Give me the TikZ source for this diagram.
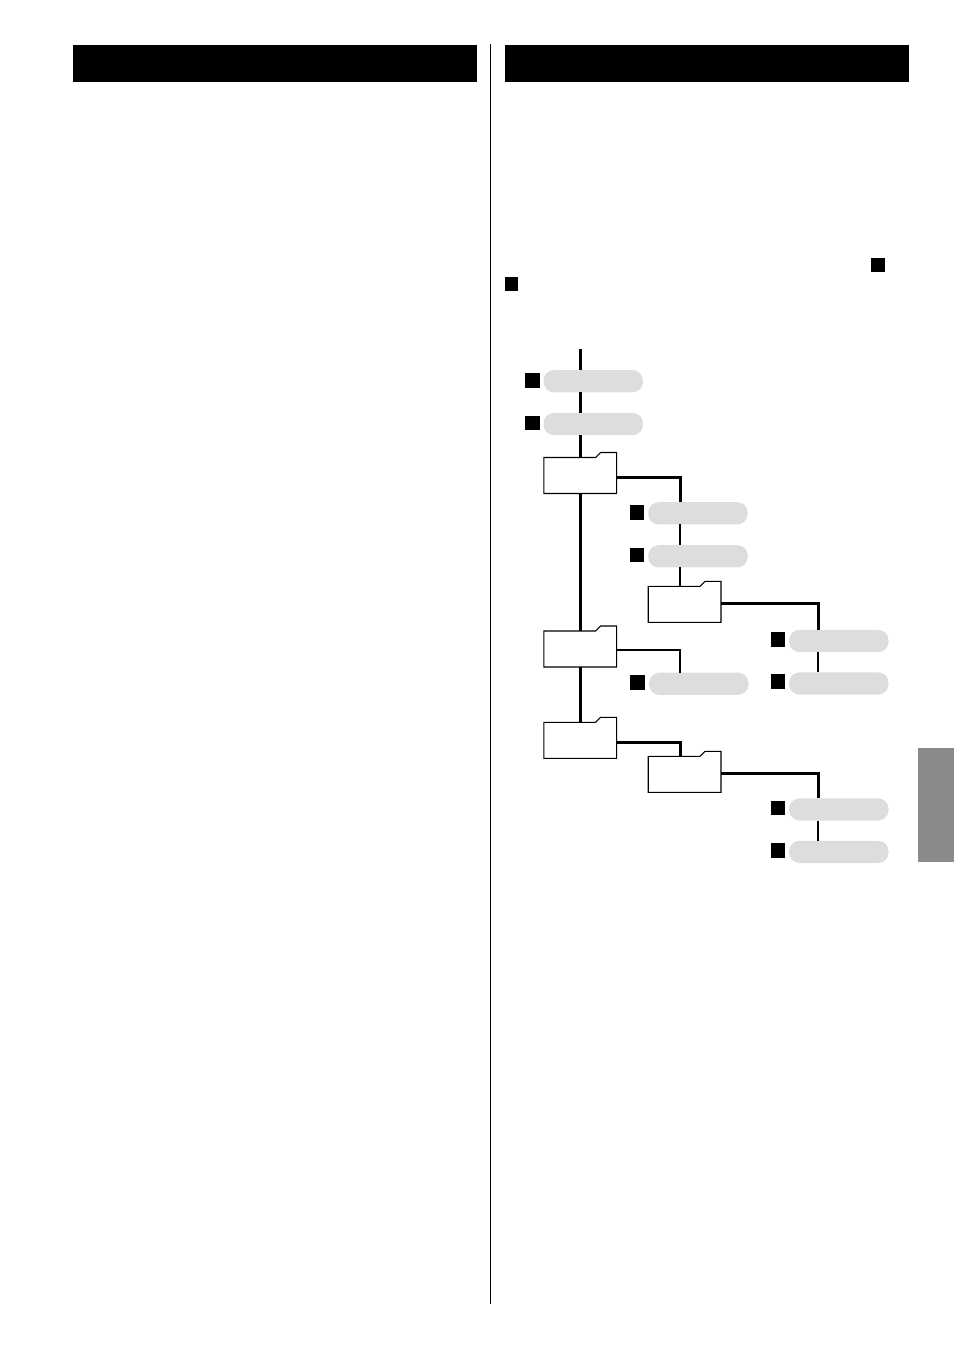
\documentclass[tikz,border=0pt]{standalone}
\usepackage{tikz}
\usetikzlibrary{positioning, calc}
\definecolor{pillgray}{HTML}{DCDDDD}
\definecolor{sidegray}{HTML}{8A8A8A}

\begin{document}
\begin{tikzpicture}[
    x=1pt, y=-1pt,
    node distance=4pt,
    bar/.style={fill=black, inner sep=0pt, outer sep=0pt, minimum width=404pt, minimum height=37pt, anchor=north west},
    pill/.style={fill=pillgray, rounded corners=10.5pt, inner sep=0pt, outer sep=0pt, minimum width=99.5pt, minimum height=22.3pt},
    sq/.style={fill=black, inner sep=0pt, outer sep=0pt, minimum size=14.6pt},
    folder/.style={fill=white, inner sep=0pt, outer sep=0pt, minimum width=72.8pt, minimum height=36pt},
    outline/.style={draw=black, line width=1.1pt, fill=white, line join=miter},
    trunk/.style={draw=black, line width=3pt},
    branch/.style={draw=black, line width=3pt},
    twig/.style={draw=black, line width=2.2pt},
]
\useasboundingbox (0,0) rectangle (954,1350);

% Header bars and page furniture
\node[bar] (barl) at (73,45) {};
\node[bar] (barr) at (505,45) {};
\node[fill=sidegray, inner sep=0pt, outer sep=0pt, minimum width=36pt, minimum height=114pt, anchor=north west] (side) at (918,748) {};
\coordinate (divt) at (490.5,44);
\coordinate (divb) at (490.5,1304);
\draw[line width=1.2pt] (divt) -- (divb);
\node[sq, minimum size=14pt] (inl1) at (878,265) {};
\node[sq, minimum size=14pt, minimum width=13.2pt] (inl2) at (511.6,284) {};

% Root level
\coordinate (top) at (580.5,349);
\node[pill] (p1) at (593.25,381.2) {};
\node[pill, below=20.5pt of p1] (p2) {};
\node[sq, left=3.8pt of p1, yshift=.7pt] (s1) {};
\node[sq, left=3.8pt of p2, yshift=1.2pt] (s2) {};

% Folders
\node[folder] (fold1) at (580.2,475.5) {};
\node[folder] (fold2) at (684.6,604.3) {};
\node[folder] (fold3) at (580.2,649) {};
\node[folder] (fold4) at (580.2,740.3) {};
\node[folder] (fold5) at (684.6,774.3) {};
\foreach \f in {fold1,fold2,fold3,fold4,fold5}
    \draw[outline] (\f.south west) -- (\f.north west) -- ($(\f.north east)+(-21,0)$)
        -- ++(5,-5) -- ($(\f.north east)+(0,-5)$) -- (\f.south east) -- cycle;

% Pills under folder 1
\node[pill] (p3) at (698,513.3) {};
\node[pill, below=20.7pt of p3] (p4) {};
\node[sq, left=3.8pt of p3, yshift=1pt] (s3) {};
\node[sq, left=3.8pt of p4, yshift=1.3pt] (s4) {};

% Pills under folder 2
\node[pill] (p5) at (838.8,641) {};
\node[pill, below=20.2pt of p5] (p6) {};
\node[sq, left=3.8pt of p5, yshift=1.5pt] (s5) {};
\node[sq, left=3.8pt of p6, yshift=1.8pt] (s6) {};

% Pill under folder 3
\node[pill] (p7) at (698.8,683.8) {};
\node[sq, left=3.8pt of p7, yshift=1.3pt, xshift=-.5pt] (s7) {};

% Pills under folder 5
\node[pill] (p8) at (838.8,809.4) {};
\node[pill, below=20.2pt of p8] (p9) {};
\node[sq, left=3.8pt of p8, yshift=1.4pt] (s8) {};
\node[sq, left=3.8pt of p9, yshift=1.5pt] (s9) {};

% Trunk
\draw[trunk] (top) -- (top |- p1.north);
\draw[trunk] (top |- p1.south) -- (top |- p2.north);
\draw[trunk] (top |- p2.south) -- (top |- fold1.north);
\draw[trunk] (top |- fold1.south) -- (top |- fold3.north);
\draw[trunk] (top |- fold3.south) -- (top |- fold4.north);

% Branch corners
\coordinate (c1) at (680,477.4);
\coordinate (c2) at (818,603.5);
\coordinate (c3) at (680,650);
\coordinate (c4) at (680,742.5);
\coordinate (c5) at (818,773.5);

% Branches
\draw[branch] (fold1.east |- c1) -- (c1) -- (c1 |- p3.north);
\draw[twig] (c1 |- p3.south) -- (c1 |- p4.north);
\draw[twig] (c1 |- p4.south) -- (c1 |- fold2.north);
\draw[branch] (fold2.east |- c2) -- (c2) -- (c2 |- p5.north);
\draw[twig] (c2 |- p5.south) -- (c2 |- p6.north);
\draw[twig] (fold3.east |- c3) -- (c3) -- (c3 |- p7.north);
\draw[branch] (fold4.east |- c4) -- (c4) -- (c4 |- fold5.north);
\draw[branch] (fold5.east |- c5) -- (c5) -- (c5 |- p8.north);
\draw[twig] (c5 |- p8.south) -- (c5 |- p9.north);
\end{tikzpicture}
\end{document}
